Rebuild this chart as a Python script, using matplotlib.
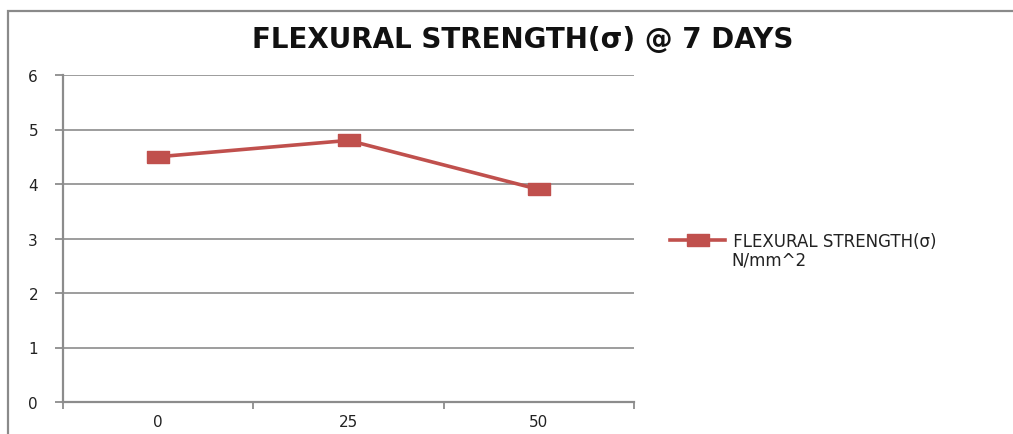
import matplotlib
matplotlib.use("Agg")
import matplotlib.pyplot as plt
import numpy as np
from matplotlib.patches import Rectangle

# flexural strength after 7 days, by replacement percentage
categories = ["0", "25", "50"]
strength = [4.5, 4.8, 3.9]
series_label = " FLEXURAL STRENGTH(σ)"
series_unit = "N/mm^2"
title = "FLEXURAL STRENGTH(σ) @ 7 DAYS"

LINE_RED = "#C0504D"
GRID_GRAY = "#8C8C8C"
plt.rcParams["font.family"] = ["DejaVu Sans"]

W, H = 1013, 435
fig = plt.figure(figsize=(W / 100, H / 100), dpi=100)

# outer chart frame (runs off the right and bottom edges)
fig.patches.append(Rectangle((8 / W, -0.1), 1.2, (H - 12) / H + 0.1,
                             transform=fig.transFigure, fill=False,
                             edgecolor="#8A8A8A", linewidth=1.6))

ax = fig.add_axes([63 / W, (H - 403) / H, (634 - 63) / W, (403 - 76) / H])

# wide flat square marker
rect = [(-1, -0.55), (1, -0.55), (1, 0.55), (-1, 0.55), (-1, -0.55)]
x = np.arange(len(categories))
ax.plot(x, strength, color=LINE_RED, linewidth=2.6, marker=rect,
        markersize=16, markerfacecolor=LINE_RED, markeredgecolor=LINE_RED,
        label=series_label, zorder=3)

ax.set_xlim(-0.5, len(categories) - 0.5)
ax.set_ylim(0, 6)
ax.set_yticks(range(0, 7))
ax.yaxis.grid(True, color=GRID_GRAY, linewidth=1.2)
ax.set_axisbelow(True)

# category boundaries get the tick marks, labels sit between them
ax.set_xticks(np.arange(-0.5, len(categories), 1.0))
ax.set_xticklabels([])
ax.set_xticks(x, minor=True)
ax.set_xticklabels(categories, minor=True)
ax.tick_params(axis="x", which="major", length=5, width=1.3, color=GRID_GRAY, direction="out")
ax.tick_params(axis="x", which="minor", length=0, pad=9, labelsize=11, labelcolor="#222222")
ax.tick_params(axis="y", length=6, width=1.3, color=GRID_GRAY, pad=12,
               labelsize=11, labelcolor="#222222")

for side in ("top", "right"):
    ax.spines[side].set_visible(False)
for side in ("left", "bottom"):
    ax.spines[side].set_color(GRID_GRAY)
    ax.spines[side].set_linewidth(1.6)

fig.text(523 / W, 1 - 40 / H, title, ha="center", va="center",
         fontsize=20, fontweight="bold", color="#111111")

ax.legend(loc="center left", bbox_to_anchor=(670 / W, 1 - 242 / H),
          bbox_transform=fig.transFigure, frameon=False, fontsize=12,
          handlelength=3.3, handletextpad=0.2, borderpad=0, borderaxespad=0,
          labelcolor="#222222")
# unit wraps onto a second line under the series name
fig.text(731 / W, 1 - 261 / H, series_unit, ha="left", va="center",
         fontsize=12, color="#222222")

fig.savefig("out.png", dpi=100)
